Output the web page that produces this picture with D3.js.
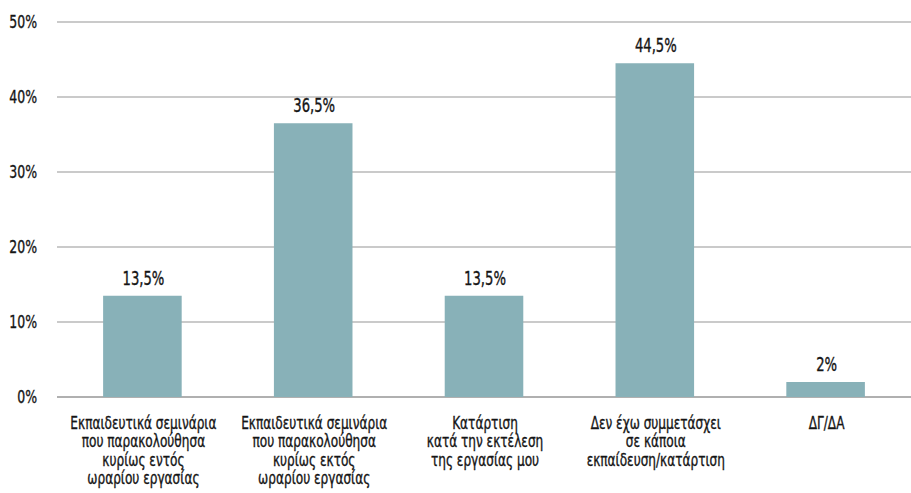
<!DOCTYPE html>
<html><head><meta charset="utf-8">
<script src="https://cdn.jsdelivr.net/npm/d3@7"></script>
<style>
body{margin:0;background:#fff;}
text{font-family:"DejaVu Sans Condensed","DejaVu Sans",sans-serif;fill:#151515;stroke:#151515;stroke-width:0.35px;}
</style></head>
<body><svg id="c" width="911" height="493"></svg>
<script>
const categories = [
  ["Εκπαιδευτικά σεμινάρια","που παρακολούθησα","κυρίως εντός","ωραρίου εργασίας"],
  ["Εκπαιδευτικά σεμινάρια","που παρακολούθησα","κυρίως εκτός","ωραρίου εργασίας"],
  ["Κατάρτιση","κατά την εκτέλεση","της εργασίας μου"],
  ["Δεν έχω συμμετάσχει","σε κάποια","εκπαίδευση/κατάρτιση"],
  ["ΔΓ/ΔΑ"]
];
const values = [13.5, 36.5, 13.5, 44.5, 2];
const valueLabels = ["13,5%","36,5%","13,5%","44,5%","2%"];
const yTicks = [0,10,20,30,40,50];

(function(){
const svg = d3.select("#c");
const mLeft = 57, mRight = 911, mTop = 22, mBottom = 397;
const SX = 0.77;
const x = d3.scaleBand().domain(d3.range(values.length)).range([mLeft,mRight]).paddingInner(0.54).paddingOuter(0.27);
const y = d3.scaleLinear().domain([0,50]).range([mBottom,mTop]);

svg.append("g").selectAll("line").data(yTicks).join("line")
  .attr("x1",mLeft).attr("x2",mRight)
  .attr("y1",d=>y(d)).attr("y2",d=>y(d))
  .attr("stroke",d=>d===0?"#b0b0b0":"#b8b8b8").attr("stroke-width",d=>d===0?2:1.3);

svg.append("g").selectAll("text").data(yTicks).join("text")
  .attr("transform",d=>`translate(37,${y(d)+6}) scale(${SX},1)`)
  .attr("text-anchor","end").attr("font-size",18)
  .text(d=>d+"%");

svg.append("g").selectAll("rect").data(values).join("rect")
  .attr("x",(d,i)=>x(i)).attr("width",x.bandwidth())
  .attr("y",d=>y(d)).attr("height",d=>mBottom-y(d))
  .attr("fill","#88b1b8");

svg.append("g").selectAll("text").data(values).join("text")
  .attr("transform",(d,i)=>`translate(${x(i)+x.bandwidth()/2+1},${y(d)-11}) scale(${SX},1)`)
  .attr("text-anchor","middle").attr("font-size",19)
  .text((d,i)=>valueLabels[i]);

const lab = svg.append("g").selectAll("text").data(categories).join("text")
  .attr("text-anchor","middle").attr("font-size",17.5)
  .attr("transform",(d,i)=>`translate(${x(i)+x.bandwidth()/2+1},0) scale(${SX},1)`);
lab.selectAll("tspan").data(d=>d).join("tspan")
  .attr("x",0).attr("y",(d,j)=>429+j*18.5).text(d=>d);
})();
</script></body></html>
